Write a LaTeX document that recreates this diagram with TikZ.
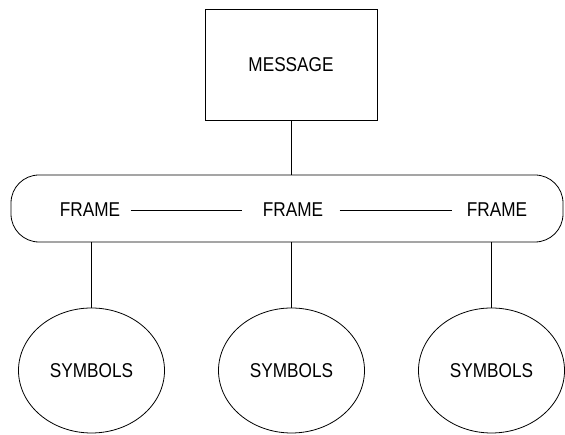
\documentclass[tikz,border=0pt]{standalone}
\usepackage{fontspec}
\newfontfamily\diagfont{Liberation Sans}[FakeStretch=0.86]
\usepackage{tikz}
\usetikzlibrary{shapes.geometric}

\begin{document}
\begin{tikzpicture}[x=1pt,y=1pt,line width=0.8pt,node distance=200pt,
    every node/.style={font=\diagfont\fontsize{20}{24}\selectfont,inner sep=0pt},
    box/.style={draw,rectangle,minimum width=172pt,minimum height=111pt},
    band/.style={draw,rectangle,rounded corners=28pt,minimum width=552pt,minimum height=67pt},
    sym/.style={draw,ellipse,minimum width=146pt,minimum height=125pt}]
  \useasboundingbox (0,0) rectangle (565,435);
  \node[box] (M) at (291,370.5) {MESSAGE};
  \node[band] (B) at (287,226.5) {};
  \node (F1) at (90,225) {FRAME};
  \node (F2) at (293,225) {FRAME};
  \node (F3) at (497,225) {FRAME};
  \node[sym] (S1) at (91.5,64.5) {SYMBOLS};
  \node[sym] (S2) [right of=S1] {SYMBOLS};
  \node[sym] (S3) [right of=S2] {SYMBOLS};
  \draw (M.south) -- (M.south |- B.north);
  \draw[shorten <=10pt,shorten >=21pt] (F1) -- (F2);
  \draw[shorten <=16pt,shorten >=15pt] (F2) -- (F3);
  \draw (S1) -- (S1 |- B.south);
  \draw (S2) -- (S2 |- B.south);
  \draw (S3) -- (S3 |- B.south);
\end{tikzpicture}
\end{document}
